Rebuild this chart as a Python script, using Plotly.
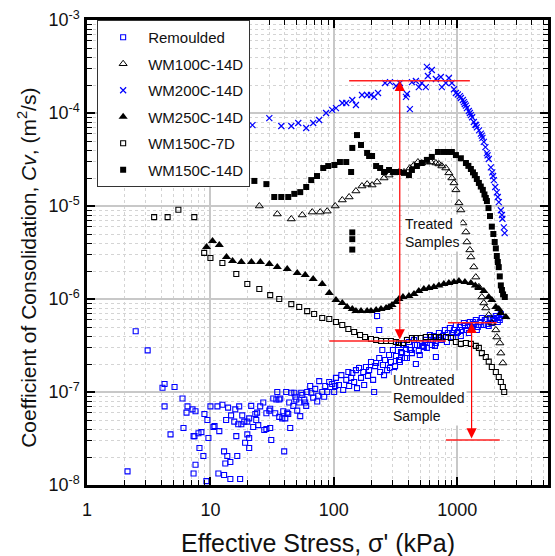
import math
import plotly.graph_objects as go

# ---------------- data ----------------
remoulded_x = [2.48, 3.10, 4.09, 4.25, 5.12, 4.25, 4.75, 5.94, 6.05, 6.52, 6.40, 7.16, 7.57, 7.30, 7.43, 8.0, 8.45, 8.15, 8.77, 7.57,
               7.30, 8.94, 9.45, 9.63, 10.0, 9.28, 2.13, 10.8, 10.58, 11.4, 12.5, 11.8, 12.9, 13.7, 13.2, 14.5, 11.6, 12.9, 14.5, 13.4,
               13.9, 14.7, 15.9, 16.5, 16.2, 17.1, 15.6, 16.8, 18.1, 17.8, 19.1, 19.9, 20.6, 20.6, 17.4, 18.8, 19.9, 21.4, 20.6, 22.2,
               23.1, 23.9, 23.5, 24.4, 25.3, 26.8, 27.3, 28.4, 28.4, 30.0, 30.5, 31.1, 30.5, 32.3, 33.5, 34.2, 36.1, 36.8, 34.8, 38.9,
               36.1, 38.2, 40.4, 41.9, 41.1, 39.6, 43.5, 44.3, 42.7, 45.2, 46.9, 47.8, 48.7, 49.6, 50.5, 52.4, 53.4, 54.4, 55.5, 57.6,
               58.6, 59.7, 60.8, 64.3, 65.6, 68.0, 70.6, 73.3, 74.7, 76.1, 80.5, 83.5, 85.1, 88.3, 91.7, 93.4, 96.9, 100.6, 102.5,
               104, 110, 115, 119, 126, 131, 133, 138, 141, 146, 151, 154, 160, 166, 173, 176, 182, 189, 193, 200,
               208, 216, 220, 224, 233, 233, 237, 247, 250, 260, 270, 280, 290, 301, 313, 319, 331, 337, 350, 357,
               370, 384, 391, 406, 422, 429, 446, 462, 471, 488, 507, 527, 536, 556, 567, 600, 622, 633, 647, 671,
               671, 710, 736, 764, 794, 809, 839, 871, 904, 939, 975, 1012, 1050, 1090, 1131, 1175, 1219, 1265, 1313, 1362,
               1413, 1467, 1523, 1581, 1641, 1703, 1767, 1834, 1904, 1976, 2051, 2129, 2168, 2253,
               212, 255, 285, 307, 343, 377, 413, 454, 497, 546, 611, 659, 723, 824, 921, 993, 1069, 1153, 1242, 1337,
               1441, 1552, 1672, 1798, 1940, 2091, 2210]
remoulded_cv = [4.5e-7, 2.8e-7, 1.11e-7, 1.22e-7, 1.13e-7, 7.0e-8, 3.5e-8, 8.5e-8, 4.1e-8, 7.0e-8, 6.0e-8, 6.5e-8, 6.2e-8, 3.35e-8, 3.35e-8, 3.6e-8, 3.7e-8, 2.5e-8, 2.05e-8, 1.65e-8,
                1.33e-8, 5.8e-8, 5.0e-8, 3.2e-8, 7.0e-8, 1.1e-8, 1.4e-8, 4.3e-8, 4.2e-8, 7.0e-8, 7.3e-8, 3.8e-8, 2.3e-8, 2.05e-8, 1.7e-8, 1.77e-8, 1.33e-8, 1.28e-8, 1.16e-8, 5.0e-8,
                6.8e-8, 5.6e-8, 6.5e-8, 2.05e-8, 3.35e-8, 7.0e-8, 4.8e-8, 4.5e-8, 5.6e-8, 4.5e-8, 2.85e-8, 3.5e-8, 3.2e-8, 2.5e-8, 1.16e-8, 4.8e-8, 4.8e-8, 7.1e-8, 5.2e-8, 4.2e-8,
                5.8e-8, 6.0e-8, 5.0e-8, 4.4e-8, 7.0e-8, 7.7e-8, 3.9e-8, 5.9e-8, 4.0e-8, 6.3e-8, 6.6e-8, 3.05e-8, 4.1e-8, 8.5e-8, 5.9e-8, 8.3e-8, 8.3e-8, 8.5e-8, 1.0e-7, 6.2e-8,
                5.4e-8, 5.2e-8, 5.2e-8, 6.0e-8, 1.0e-7, 2.3e-8, 7.7e-8, 4.1e-8, 5.8e-8, 9.8e-8, 7.1e-8, 9.8e-8, 8.9e-8, 8.3e-8, 6.3e-8, 7.7e-8, 5.5e-8, 9.8e-8, 9.3e-8, 8.3e-8,
                7.7e-8, 7.1e-8, 1.0e-7, 1.16e-7, 9.8e-8, 8.7e-8, 1.08e-7, 7.9e-8, 9.1e-8, 1.31e-7, 1.0e-7, 8.9e-8, 1.16e-7, 1.0e-7, 1.28e-7, 1.13e-7, 1.22e-7, 1.0e-7, 1.16e-7,
                1.42e-7, 1.19e-7, 1.52e-7, 1.05e-7, 1.35e-7, 1.64e-7, 1.16e-7, 1.42e-7, 1.60e-7, 1.28e-7, 1.72e-7, 1.10e-7, 1.81e-7, 1.42e-7, 1.64e-7, 1.19e-7, 1.86e-7, 1.49e-7, 1.72e-7, 2.10e-7,
                1.35e-7, 1.90e-7, 2.05e-7, 6.56e-7, 4.65e-7, 2.32e-7, 1.64e-7, 2.83e-7, 1.95e-7, 2.21e-7, 1.72e-7, 2.5e-7, 2.10e-7, 2.83e-7, 1.90e-7, 2.44e-7, 3.2e-7, 2.21e-7, 2.69e-7, 2.62e-7,
                3.2e-7, 2.9e-7, 2.32e-7, 3.45e-7, 2.83e-7, 2.62e-7, 3.63e-7, 2.0e-7, 3.2e-7, 2.76e-7, 3.81e-7, 3.13e-7, 3.05e-7, 3.63e-7, 2.98e-7, 4.10e-7, 3.2e-7, 3.63e-7, 4.0e-7, 2.38e-7,
                3.37e-7, 4.31e-7, 3.63e-7, 4.0e-7, 4.65e-7, 3.90e-7, 4.31e-7, 4.87e-7, 4.31e-7, 4.65e-7, 5.25e-7, 4.41e-7, 5.0e-7, 4.65e-7, 5.52e-7, 4.65e-7, 5.13e-7, 5.66e-7, 4.87e-7, 5.39e-7,
                5.94e-7, 5.0e-7, 5.66e-7, 6.25e-7, 5.25e-7, 5.94e-7, 5.39e-7, 6.25e-7, 5.52e-7, 6.1e-7, 6.56e-7, 5.66e-7, 6.25e-7, 6.9e-7,
                1.0e-7, 1.52e-7, 1.81e-7, 1.64e-7, 2.10e-7, 2.32e-7, 2.83e-7, 3.2e-7, 2.5e-7, 3.37e-7, 3.63e-7, 3.13e-7, 3.81e-7, 3.45e-7, 3.90e-7, 4.31e-7, 4.0e-7, 5.13e-7, 4.31e-7, 5.66e-7,
                4.65e-7, 5.25e-7, 5.94e-7, 5.13e-7, 5.94e-7, 6.25e-7, 5.94e-7]

wm100_x = [24.9, 34.8, 45.2, 55.5, 66.8, 77.5, 88.3, 102.5, 117, 133, 151, 169, 186, 204, 224, 255, 280, 307, 337, 370,
           413, 446, 480, 516, 567, 611, 671, 710, 750, 808, 855, 904, 940, 975, 1031, 1069, 1110, 1175, 1197, 1265,
           1289, 1362, 1413, 1496, 1581, 1641, 1702, 1798, 1905, 2053, 2091, 2213, 2254, 2340]
wm100_cv = [1.0e-5, 8.2e-6, 7.25e-6, 8.0e-6, 8.6e-6, 8.6e-6, 8.8e-6, 1.0e-5, 1.16e-5, 1.25e-5, 1.45e-5, 1.64e-5, 1.72e-5, 1.68e-5, 1.81e-5, 2.0e-5, 2.15e-5, 2.27e-5, 2.32e-5, 2.32e-5,
            2.56e-5, 2.76e-5, 2.97e-5, 2.90e-5, 2.97e-5, 2.97e-5, 2.90e-5, 2.83e-5, 2.69e-5, 2.56e-5, 2.27e-5, 2.0e-5, 1.77e-5, 1.49e-5, 1.08e-5, 9.06e-6, 6.56e-6, 5.25e-6, 4.10e-6, 3.37e-6,
            2.83e-6, 2.21e-6, 1.72e-6, 1.35e-6, 1.05e-6, 9.06e-7, 8.0e-7, 6.73e-7, 5.52e-7, 4.65e-7, 3.90e-7, 3.36e-7, 2.62e-7, 2.05e-7]

wm200_x = [21.9, 30.0, 37.5, 45.2, 51.5, 59.7, 68, 76, 86.5, 96.8, 104, 117, 126, 141, 151, 169, 186, 200, 212, 228,
           260, 285, 319, 343, 384, 391, 413, 429, 462, 488, 516, 556, 567, 578, 622, 671, 736, 750, 808, 855,
           904, 940, 975, 1010, 1050, 1069, 1110, 1131, 1150, 1175, 1197, 1240, 1265, 1289, 1320, 1362, 1400, 1420, 1441, 1500,
           1552, 1580, 1600, 1641, 1690, 1738, 1760, 1800, 1871, 1920, 1950, 1978, 2030, 2091, 2130, 2170, 2254, 2300, 2320, 2384, 2420]
wm200_cv = [7.4e-5, 8.8e-5, 7.25e-5, 7.25e-5, 7.8e-5, 6.9e-5, 7.8e-5, 8.4e-5, 1.0e-4, 1.08e-4, 1.13e-4, 1.28e-4, 1.28e-4, 1.38e-4, 1.22e-4, 1.56e-4, 1.56e-4, 1.56e-4, 1.49e-4, 1.64e-4,
            2.10e-4, 2.15e-4, 1.95e-4, 2.10e-4, 1.49e-4, 1.60e-4, 1.10e-4, 2.15e-4, 2.21e-4, 1.90e-4, 2.10e-4, 1.90e-4, 3.13e-4, 2.50e-4, 2.90e-4, 2.32e-4, 2.44e-4, 1.90e-4, 2.10e-4, 2.38e-4,
            2.10e-4, 1.80e-4, 1.64e-4, 1.58e-4, 1.52e-4, 1.45e-4, 1.38e-4, 1.31e-4, 1.25e-4, 1.20e-4, 1.13e-4, 1.05e-4, 1.0e-4, 9.5e-5, 9.0e-5, 8.0e-5, 7.5e-5, 7.4e-5, 7.0e-5, 6.5e-5,
            6.0e-5, 5.7e-5, 5.4e-5, 4.9e-5, 4.3e-5, 3.7e-5, 3.5e-5, 3.2e-5, 2.6e-5, 2.3e-5, 2.1e-5, 1.9e-5, 1.6e-5, 1.4e-5, 1.25e-5, 1.1e-5, 9.0e-6, 8.0e-6, 7.3e-6, 5.9e-6, 5.1e-6]

wm250_x = [9.3, 10.4, 11.8, 13.5, 15.1, 17.8, 21.5, 25.4, 30, 34.8, 41.9, 50.5, 58.6, 68, 80.5, 91.8, 104, 117, 128, 141,
           151, 166, 186, 200, 220, 241, 265, 280, 296, 319, 337, 363, 406, 446, 488, 536, 589, 646, 710, 778,
           855, 940, 1031, 1153, 1289, 1400, 1496, 1641, 1798, 1905, 2053, 2168, 2254, 2477]
wm250_cv = [3.62e-6, 4.21e-6, 3.81e-6, 2.83e-6, 2.57e-6, 2.50e-6, 2.50e-6, 2.50e-6, 2.38e-6, 2.21e-6, 2.10e-6, 1.90e-6, 1.81e-6, 1.64e-6, 1.45e-6, 1.16e-6, 9.75e-7, 9.06e-7, 8.2e-7, 7.8e-7,
            7.43e-7, 7.43e-7, 7.43e-7, 7.43e-7, 7.6e-7, 7.8e-7, 8.0e-7, 8.2e-7, 8.6e-7, 9.3e-7, 1.0e-6, 1.05e-6, 1.08e-6, 1.13e-6, 1.22e-6, 1.28e-6, 1.31e-6, 1.35e-6, 1.40e-6, 1.45e-6,
            1.49e-6, 1.52e-6, 1.56e-6, 1.52e-6, 1.49e-6, 1.40e-6, 1.31e-6, 1.22e-6, 1.05e-6, 9.75e-7, 8.2e-7, 7.8e-7, 7.06e-7, 6.4e-7]

wm150_7d_x = [3.5, 4.5, 5.5, 7.4, 8.9, 10.0, 12.5, 16.2, 19.9, 24.9, 30.5, 36.1, 45.2, 52.4, 60.8, 69.2, 80.5, 91.8, 104, 117,
              131, 146, 163, 179, 200, 220, 241, 265, 290, 319, 337, 363, 391, 429, 462, 507, 556, 611, 671, 710,
              809, 888, 975, 1069, 1175, 1289, 1413, 1496, 1581, 1702, 1798, 1905, 2053, 2168, 2254, 2340, 2400]
wm150_7d_cv = [7.6e-6, 7.6e-6, 9.1e-6, 7.6e-6, 3.13e-6, 2.76e-6, 2.44e-6, 1.86e-6, 1.45e-6, 1.28e-6, 1.10e-6, 1.0e-6, 8.8e-7, 8.2e-7, 7.4e-7, 6.9e-7, 6.25e-7, 6.1e-7, 5.66e-7, 5.25e-7,
               4.75e-7, 4.41e-7, 4.10e-7, 3.90e-7, 3.71e-7, 3.63e-7, 3.53e-7, 3.53e-7, 3.53e-7, 3.45e-7, 3.37e-7, 3.37e-7, 3.63e-7, 3.81e-7, 3.81e-7, 3.81e-7, 3.90e-7, 3.90e-7, 3.90e-7, 3.90e-7,
               3.90e-7, 3.81e-7, 3.45e-7, 3.29e-7, 3.37e-7, 3.29e-7, 3.13e-7, 2.98e-7, 2.62e-7, 2.38e-7, 2.12e-7, 1.86e-7, 1.64e-7, 1.45e-7, 1.28e-7, 1.13e-7, 1.0e-7]

wm150_14d_x = [22.7, 28.4, 32.9, 37.5, 42.7, 47.8, 53.4, 59.7, 65.6, 73, 82, 90, 101, 112, 126, 138, 141, 154, 166, 186,
               193, 204, 220, 237, 255, 280, 307, 337, 370, 406, 429, 471, 516, 567, 622, 697, 778, 855, 904, 975,
               1069, 1175, 1230, 1289, 1340, 1387, 1440, 1496, 1550, 1611, 1660, 1702, 1738, 1790, 1840, 1905, 1960, 2010, 2053, 2091,
               2130, 2168, 2210, 2254, 2300, 2350, 2427, 141, 141, 141]
wm150_14d_cv = [1.86e-5, 1.72e-5, 1.25e-5, 1.25e-5, 1.25e-5, 1.35e-5, 1.41e-5, 1.60e-5, 1.90e-5, 2.10e-5, 2.56e-5, 2.69e-5, 2.76e-5, 2.97e-5, 2.97e-5, 2.32e-5, 4.21e-5, 5.79e-5, 4.53e-5, 3.72e-5,
                3.45e-5, 3.45e-5, 2.69e-5, 2.56e-5, 2.32e-5, 2.44e-5, 2.32e-5, 2.32e-5, 2.27e-5, 2.15e-5, 2.44e-5, 2.69e-5, 2.90e-5, 3.13e-5, 3.37e-5, 3.81e-5, 3.81e-5, 3.81e-5, 3.81e-5, 3.53e-5,
                3.26e-5, 2.90e-5, 2.70e-5, 2.50e-5, 2.30e-5, 2.15e-5, 1.95e-5, 1.77e-5, 1.62e-5, 1.49e-5, 1.33e-5, 1.22e-5, 1.13e-5, 9.5e-6, 7.8e-6, 6.0e-6, 5.0e-6, 4.1e-6, 3.5e-6, 2.9e-6,
                2.5e-6, 2.2e-6, 1.75e-6, 1.4e-6, 1.25e-6, 1.12e-6, 1.05e-6, 5.2e-6, 4.4e-6, 3.4e-6]

# red guide lines (stress kPa, Cv)
treated_line_x = [133, 1265]
treated_line_cv = [2.22e-4, 2.22e-4]
treated_low_line_x = [91.7, 809]
treated_low_line_cv = [3.53e-7, 3.53e-7]
untreated_top_line_x = [839, 2091]
untreated_top_line_cv = [5.56e-7, 5.56e-7]
untreated_low_line_x = [809, 2210]
untreated_low_line_cv = [3.05e-8, 3.05e-8]
treated_arrow = dict(x=342, top=2.22e-4, bottom=3.53e-7)
untreated_arrow = dict(x=1306, top=5.56e-7, bottom=3.05e-8)
treated_label = dict(x=365, cv=5.1e-6, text="Treated<br>Samples")
untreated_label = dict(x=290, cv=8.6e-8, text="Untreated<br>Remoulded<br>Sample")

x_tick_vals = [1, 10, 100, 1000]
x_tick_text = ["1", "10", "100", "1000"]
y_tick_vals = [1e-8, 1e-7, 1e-6, 1e-5, 1e-4, 1e-3]
y_tick_text = ["10<sup>-8</sup>", "10<sup>-7</sup>", "10<sup>-6</sup>", "10<sup>-5</sup>", "10<sup>-4</sup>", "10<sup>-3</sup>"]
x_title = "Effective Stress, \u03c3' (kPa)"
y_title = "Coefficient of Consolidation, <i>Cv</i>, (m<sup>2</sup>/s)"

FONT = "Liberation Sans, Arial, sans-serif"
BLUE = "#0000ff"

fig = go.Figure()


def add_series(name, x, y, symbol, color, size, lw):
    fig.add_trace(go.Scatter(
        x=x, y=y, mode="markers", name=name, legendgroup=name,
        marker=dict(symbol=symbol, size=size, color=color,
                    line=dict(color=color, width=lw)),
    ))


add_series("Remoulded", remoulded_x, remoulded_cv, "square-open", BLUE, 5, 1.1)
add_series("WM100C-14D", wm100_x, wm100_cv, "triangle-up-open", "black", 7, 1)
add_series("WM200C-14D", wm200_x, wm200_cv, "x-thin-open", BLUE, 6, 1.2)
add_series("WM250C-14D", wm250_x, wm250_cv, "triangle-up", "black", 8, 0)
add_series("WM150C-7D", wm150_7d_x, wm150_7d_cv, "square-open", "black", 5, 1.1)
add_series("WM150C-14D", wm150_14d_x, wm150_14d_cv, "square", "black", 6, 0)

for lx, ly in [(treated_line_x, treated_line_cv), (treated_low_line_x, treated_low_line_cv),
               (untreated_top_line_x, untreated_top_line_cv), (untreated_low_line_x, untreated_low_line_cv)]:
    fig.add_trace(go.Scatter(x=lx, y=ly, mode="lines", showlegend=False, hoverinfo="skip",
                             line=dict(color="#ff2020", width=1.4)))

for arr in (treated_arrow, untreated_arrow):
    fig.add_annotation(
        x=math.log10(arr["x"]), y=math.log10(arr["top"]),
        ax=math.log10(arr["x"]), ay=math.log10(arr["bottom"]),
        xref="x", yref="y", axref="x", ayref="y",
        showarrow=True, arrowhead=2, arrowside="end+start", arrowsize=1.7,
        arrowwidth=1.2, arrowcolor="#ff0000", text="", standoff=0, startstandoff=0,
    )

for lab in (treated_label, untreated_label):
    fig.add_annotation(
        x=math.log10(lab["x"]), y=math.log10(lab["cv"]), xref="x", yref="y",
        text=lab["text"], showarrow=False, xanchor="left", yanchor="middle", align="left",
        bgcolor="white", borderpad=1, font=dict(family=FONT, size=14, color="#111"),
    )

# axis titles
fig.add_annotation(text=x_title, xref="paper", yref="paper", x=0.5, y=0, xanchor="center",
                   yanchor="top", yshift=-42, showarrow=False,
                   font=dict(family=FONT, size=25, color="#111"))
fig.add_annotation(text=y_title, xref="paper", yref="paper", x=0, y=0.467, xanchor="center",
                   yanchor="middle", xshift=-60, textangle=-90, showarrow=False,
                   font=dict(family=FONT, size=21, color="#111"))

axis_common = dict(
    type="log", showline=True, linecolor="black", linewidth=2.5, mirror="allticks",
    ticks="inside", ticklen=8, tickwidth=2, tickcolor="black", automargin=False,
    showgrid=True, gridcolor="#c8c8c8", gridwidth=1.5, zeroline=False,
    tickfont=dict(family=FONT, size=18, color="#111"),
    minor=dict(ticks="inside", ticklen=5, tickwidth=1.2, tickcolor="black",
               showgrid=True, gridcolor="#d4d4d4", gridwidth=1, griddash="dot", dtick="D1"),
)

fig.update_xaxes(**axis_common, range=[0, 3.735], tickmode="array",
                 tickvals=x_tick_vals, ticktext=x_tick_text, ticklabelstandoff=7)
fig.update_yaxes(**axis_common, range=[-8, -3], tickmode="array",
                 tickvals=y_tick_vals, ticktext=y_tick_text, ticklabelstandoff=1)

fig.update_layout(
    width=555, height=556, margin=dict(l=87, r=7, t=20, b=71, autoexpand=False),
    plot_bgcolor="white", paper_bgcolor="white",
    legend=dict(x=0.022, y=1, xanchor="left", yanchor="top", bgcolor="white",
                bordercolor="#333", borderwidth=1, tracegroupgap=4, itemwidth=40,
                font=dict(family=FONT, size=15, color="#111")),
)

fig.write_html("out.html", config={"displayModeBar": False},
               post_script="document.body.style.margin='0px';document.body.style.overflow='hidden';")
